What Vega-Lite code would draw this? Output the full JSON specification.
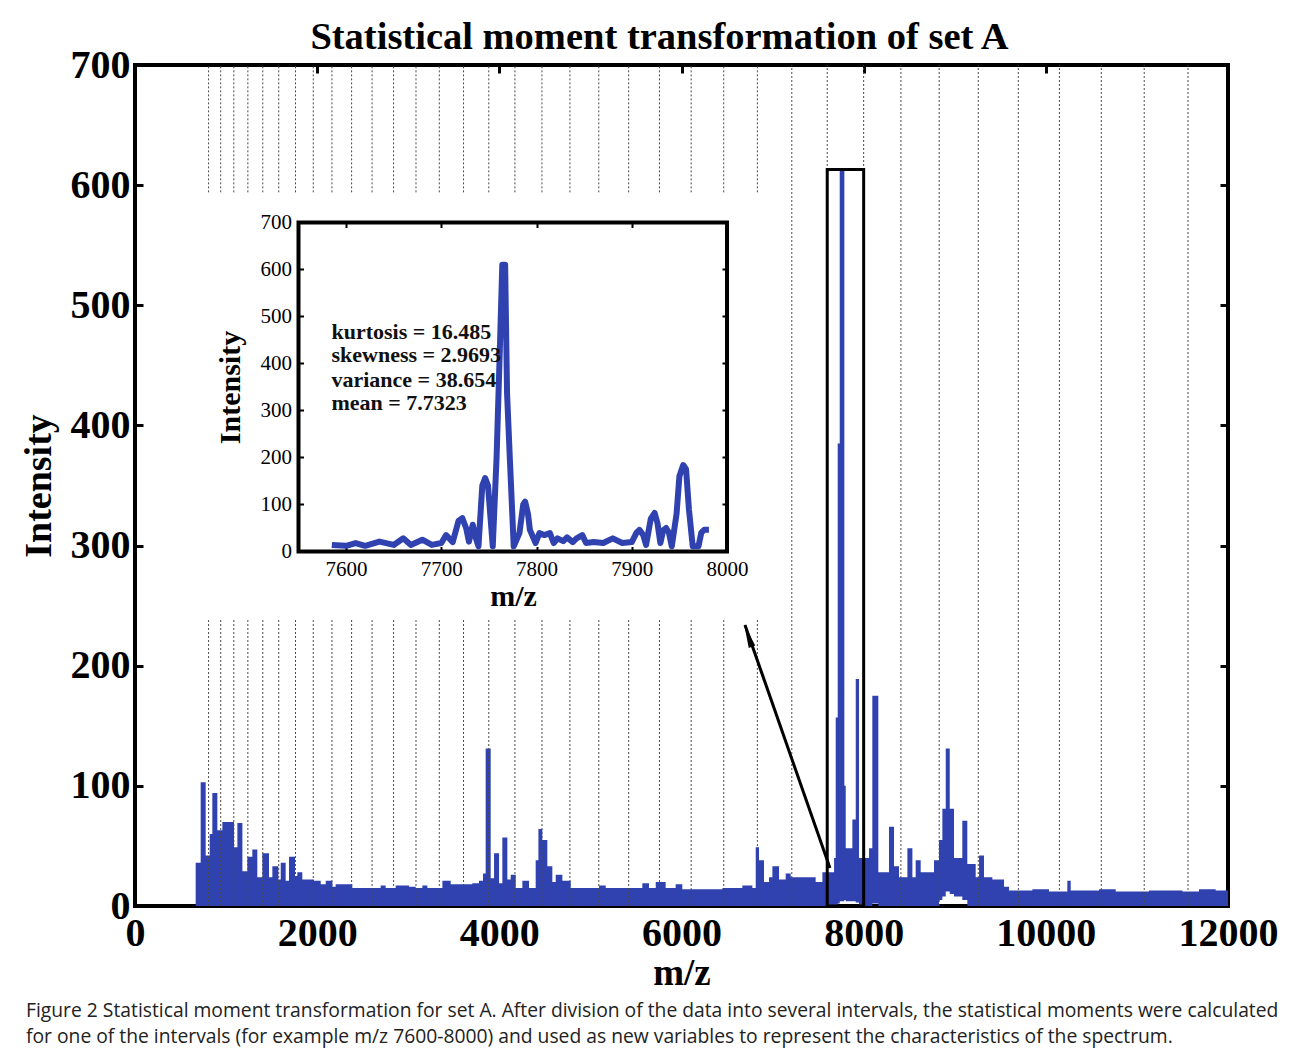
{
  "$schema": "https://vega.github.io/schema/vega-lite/v6.json",
  "background": "white",
  "padding": {"left": 18, "top": 15, "right": 0, "bottom": 0},
  "title": {
    "text": ["Figure 2 Statistical moment transformation for set A. After division of the data into several intervals, the statistical moments were calculated", "for one of the intervals (for example m/z 7600-8000) and used as new variables to represent the characteristics of the spectrum."],
    "orient": "bottom", "anchor": "start", "frame": "bounds",
    "font": "Open Sans", "fontSize": 19.3, "fontWeight": "normal", "color": "#222222",
    "lineHeight": 26, "offset": 9, "dx": 8
  },
  "datasets": {
    "spectrum": [
      {"mz": 666, "v": 36, "lo": 0}, {"mz": 721, "v": 103, "lo": 0}, {"mz": 776, "v": 42, "lo": 0}, {"mz": 820, "v": 60, "lo": 0},
      {"mz": 849, "v": 94, "lo": 0}, {"mz": 904, "v": 63, "lo": 0}, {"mz": 959, "v": 70, "lo": 0}, {"mz": 1087, "v": 49, "lo": 0},
      {"mz": 1124, "v": 69, "lo": 0}, {"mz": 1179, "v": 29, "lo": 0}, {"mz": 1233, "v": 41, "lo": 0}, {"mz": 1288, "v": 47, "lo": 0},
      {"mz": 1343, "v": 24, "lo": 0}, {"mz": 1398, "v": 44, "lo": 0}, {"mz": 1471, "v": 24, "lo": 0}, {"mz": 1508, "v": 33, "lo": 0},
      {"mz": 1574, "v": 22, "lo": 0}, {"mz": 1600, "v": 36, "lo": 0}, {"mz": 1654, "v": 21, "lo": 0}, {"mz": 1691, "v": 41, "lo": 0},
      {"mz": 1757, "v": 25, "lo": 0}, {"mz": 1782, "v": 28, "lo": 0}, {"mz": 1837, "v": 22, "lo": 0}, {"mz": 1965, "v": 21, "lo": 0},
      {"mz": 2039, "v": 18, "lo": 0}, {"mz": 2094, "v": 21, "lo": 0}, {"mz": 2167, "v": 16, "lo": 0}, {"mz": 2203, "v": 18, "lo": 0},
      {"mz": 2386, "v": 15, "lo": 0}, {"mz": 2606, "v": 15, "lo": 0}, {"mz": 2697, "v": 17, "lo": 0}, {"mz": 2752, "v": 15, "lo": 0},
      {"mz": 2862, "v": 17, "lo": 0}, {"mz": 3009, "v": 16, "lo": 0}, {"mz": 3082, "v": 15, "lo": 0}, {"mz": 3155, "v": 17, "lo": 0},
      {"mz": 3210, "v": 15, "lo": 0}, {"mz": 3375, "v": 21, "lo": 0}, {"mz": 3466, "v": 18, "lo": 0}, {"mz": 3704, "v": 19, "lo": 0},
      {"mz": 3777, "v": 21, "lo": 0}, {"mz": 3821, "v": 27, "lo": 0}, {"mz": 3850, "v": 131, "lo": 0}, {"mz": 3905, "v": 23, "lo": 0},
      {"mz": 3942, "v": 44, "lo": 0}, {"mz": 3997, "v": 19, "lo": 0}, {"mz": 4033, "v": 57, "lo": 0}, {"mz": 4088, "v": 22, "lo": 0},
      {"mz": 4125, "v": 26, "lo": 0}, {"mz": 4180, "v": 15, "lo": 0}, {"mz": 4253, "v": 21, "lo": 0}, {"mz": 4326, "v": 15, "lo": 0},
      {"mz": 4399, "v": 38, "lo": 0}, {"mz": 4429, "v": 64, "lo": 0}, {"mz": 4472, "v": 55, "lo": 0}, {"mz": 4527, "v": 33, "lo": 0},
      {"mz": 4582, "v": 20, "lo": 0}, {"mz": 4619, "v": 26, "lo": 0}, {"mz": 4692, "v": 21, "lo": 0}, {"mz": 4784, "v": 15, "lo": 0},
      {"mz": 5095, "v": 17, "lo": 0}, {"mz": 5168, "v": 15, "lo": 0}, {"mz": 5570, "v": 19, "lo": 0}, {"mz": 5643, "v": 15, "lo": 0},
      {"mz": 5717, "v": 20, "lo": 0}, {"mz": 5826, "v": 15, "lo": 0}, {"mz": 5936, "v": 18, "lo": 0}, {"mz": 6009, "v": 14, "lo": 0},
      {"mz": 6449, "v": 15, "lo": 0}, {"mz": 6668, "v": 17, "lo": 0}, {"mz": 6778, "v": 15, "lo": 0}, {"mz": 6815, "v": 49, "lo": 0},
      {"mz": 6851, "v": 38, "lo": 0}, {"mz": 6906, "v": 20, "lo": 0}, {"mz": 6961, "v": 24, "lo": 0}, {"mz": 6998, "v": 33, "lo": 0},
      {"mz": 7071, "v": 22, "lo": 0}, {"mz": 7144, "v": 27, "lo": 0}, {"mz": 7199, "v": 24, "lo": 0}, {"mz": 7473, "v": 20, "lo": 0},
      {"mz": 7547, "v": 28, "lo": 0}, {"mz": 7601, "v": 28, "lo": 0}, {"mz": 7675, "v": 40, "lo": 0}, {"mz": 7693, "v": 157, "lo": 0},
      {"mz": 7715, "v": 385, "lo": 2}, {"mz": 7737, "v": 612, "lo": 4}, {"mz": 7788, "v": 100, "lo": 5}, {"mz": 7803, "v": 48, "lo": 4},
      {"mz": 7876, "v": 72, "lo": 4}, {"mz": 7913, "v": 189, "lo": 3}, {"mz": 7949, "v": 40, "lo": 0}, {"mz": 8059, "v": 48, "lo": 0},
      {"mz": 8095, "v": 175, "lo": 2}, {"mz": 8161, "v": 28, "lo": 0}, {"mz": 8278, "v": 66, "lo": 0}, {"mz": 8333, "v": 33, "lo": 0},
      {"mz": 8388, "v": 24, "lo": 0}, {"mz": 8480, "v": 48, "lo": 0}, {"mz": 8535, "v": 24, "lo": 0}, {"mz": 8571, "v": 38, "lo": 0},
      {"mz": 8626, "v": 28, "lo": 0}, {"mz": 8772, "v": 38, "lo": 0}, {"mz": 8827, "v": 55, "lo": 5}, {"mz": 8864, "v": 81, "lo": 8},
      {"mz": 8901, "v": 131, "lo": 12}, {"mz": 8945, "v": 81, "lo": 10}, {"mz": 8992, "v": 40, "lo": 8}, {"mz": 9083, "v": 71, "lo": 5},
      {"mz": 9138, "v": 35, "lo": 0}, {"mz": 9230, "v": 24, "lo": 0}, {"mz": 9267, "v": 42, "lo": 0}, {"mz": 9321, "v": 24, "lo": 0},
      {"mz": 9413, "v": 22, "lo": 0}, {"mz": 9541, "v": 16, "lo": 0}, {"mz": 9596, "v": 13, "lo": 0}, {"mz": 9852, "v": 14, "lo": 0},
      {"mz": 10035, "v": 12, "lo": 0}, {"mz": 10236, "v": 21, "lo": 0}, {"mz": 10273, "v": 13, "lo": 0}, {"mz": 10584, "v": 14, "lo": 0},
      {"mz": 10767, "v": 12, "lo": 0}, {"mz": 11133, "v": 13, "lo": 0}, {"mz": 11499, "v": 12, "lo": 0}, {"mz": 11682, "v": 14, "lo": 0},
      {"mz": 11865, "v": 13, "lo": 0}, {"mz": 12000, "v": 13, "lo": 0}
    ],
    "bounds": [
      {"mz": 808, "lo": 0, "hi": 238}, {"mz": 808, "lo": 594, "hi": 700},
      {"mz": 941, "lo": 0, "hi": 238}, {"mz": 941, "lo": 594, "hi": 700},
      {"mz": 1085, "lo": 0, "hi": 238}, {"mz": 1085, "lo": 594, "hi": 700},
      {"mz": 1239, "lo": 0, "hi": 238}, {"mz": 1239, "lo": 594, "hi": 700},
      {"mz": 1403, "lo": 0, "hi": 238}, {"mz": 1403, "lo": 594, "hi": 700},
      {"mz": 1578, "lo": 0, "hi": 238}, {"mz": 1578, "lo": 594, "hi": 700},
      {"mz": 1762, "lo": 0, "hi": 238}, {"mz": 1762, "lo": 594, "hi": 700},
      {"mz": 1957, "lo": 0, "hi": 238}, {"mz": 1957, "lo": 594, "hi": 700},
      {"mz": 2162, "lo": 0, "hi": 238}, {"mz": 2162, "lo": 594, "hi": 700},
      {"mz": 2378, "lo": 0, "hi": 238}, {"mz": 2378, "lo": 594, "hi": 700},
      {"mz": 2603, "lo": 0, "hi": 238}, {"mz": 2603, "lo": 594, "hi": 700},
      {"mz": 2839, "lo": 0, "hi": 238}, {"mz": 2839, "lo": 594, "hi": 700},
      {"mz": 3085, "lo": 0, "hi": 238}, {"mz": 3085, "lo": 594, "hi": 700},
      {"mz": 3341, "lo": 0, "hi": 238}, {"mz": 3341, "lo": 594, "hi": 700},
      {"mz": 3607, "lo": 0, "hi": 238}, {"mz": 3607, "lo": 594, "hi": 700},
      {"mz": 3884, "lo": 0, "hi": 238}, {"mz": 3884, "lo": 594, "hi": 700},
      {"mz": 4171, "lo": 0, "hi": 238}, {"mz": 4171, "lo": 594, "hi": 700},
      {"mz": 4468, "lo": 0, "hi": 238}, {"mz": 4468, "lo": 594, "hi": 700},
      {"mz": 4775, "lo": 0, "hi": 238}, {"mz": 4775, "lo": 594, "hi": 700},
      {"mz": 5092, "lo": 0, "hi": 238}, {"mz": 5092, "lo": 594, "hi": 700},
      {"mz": 5420, "lo": 0, "hi": 238}, {"mz": 5420, "lo": 594, "hi": 700},
      {"mz": 5758, "lo": 0, "hi": 238}, {"mz": 5758, "lo": 594, "hi": 700},
      {"mz": 6106, "lo": 0, "hi": 238}, {"mz": 6106, "lo": 594, "hi": 700},
      {"mz": 6464, "lo": 0, "hi": 238}, {"mz": 6464, "lo": 594, "hi": 700},
      {"mz": 6833, "lo": 0, "hi": 238}, {"mz": 6833, "lo": 594, "hi": 700},
      {"mz": 7211, "lo": 0, "hi": 700}, {"mz": 7600, "lo": 0, "hi": 700},
      {"mz": 8000, "lo": 0, "hi": 700}, {"mz": 8409, "lo": 0, "hi": 700},
      {"mz": 8829, "lo": 0, "hi": 700}, {"mz": 9258, "lo": 0, "hi": 700},
      {"mz": 9698, "lo": 0, "hi": 700}, {"mz": 10149, "lo": 0, "hi": 700},
      {"mz": 10609, "lo": 0, "hi": 700}, {"mz": 11080, "lo": 0, "hi": 700},
      {"mz": 11561, "lo": 0, "hi": 700}
    ],
    "inset": [
      {"mz": 7585, "v": 14}, {"mz": 7600, "v": 12}, {"mz": 7610, "v": 18}, {"mz": 7620, "v": 12}, {"mz": 7635, "v": 21},
      {"mz": 7650, "v": 14}, {"mz": 7660, "v": 28}, {"mz": 7668, "v": 14}, {"mz": 7680, "v": 25}, {"mz": 7690, "v": 14},
      {"mz": 7700, "v": 18}, {"mz": 7705, "v": 35}, {"mz": 7712, "v": 20}, {"mz": 7718, "v": 65}, {"mz": 7722, "v": 71},
      {"mz": 7726, "v": 50}, {"mz": 7729, "v": 21}, {"mz": 7733, "v": 57}, {"mz": 7736, "v": 30}, {"mz": 7739, "v": 11},
      {"mz": 7743, "v": 140}, {"mz": 7746, "v": 156}, {"mz": 7749, "v": 140}, {"mz": 7754, "v": 11}, {"mz": 7758, "v": 200},
      {"mz": 7761, "v": 400}, {"mz": 7764, "v": 610}, {"mz": 7767, "v": 610}, {"mz": 7769, "v": 337}, {"mz": 7772, "v": 195},
      {"mz": 7776, "v": 11}, {"mz": 7782, "v": 39}, {"mz": 7786, "v": 100}, {"mz": 7788, "v": 106}, {"mz": 7791, "v": 80},
      {"mz": 7793, "v": 46}, {"mz": 7799, "v": 18}, {"mz": 7803, "v": 39}, {"mz": 7808, "v": 35}, {"mz": 7814, "v": 39},
      {"mz": 7818, "v": 18}, {"mz": 7822, "v": 28}, {"mz": 7828, "v": 22}, {"mz": 7832, "v": 30}, {"mz": 7838, "v": 20},
      {"mz": 7842, "v": 28}, {"mz": 7848, "v": 35}, {"mz": 7852, "v": 18}, {"mz": 7860, "v": 20}, {"mz": 7870, "v": 18},
      {"mz": 7880, "v": 28}, {"mz": 7890, "v": 18}, {"mz": 7900, "v": 20}, {"mz": 7905, "v": 40}, {"mz": 7908, "v": 46},
      {"mz": 7912, "v": 35}, {"mz": 7915, "v": 14}, {"mz": 7920, "v": 70}, {"mz": 7924, "v": 82}, {"mz": 7927, "v": 60},
      {"mz": 7930, "v": 18}, {"mz": 7933, "v": 45}, {"mz": 7936, "v": 50}, {"mz": 7939, "v": 40}, {"mz": 7942, "v": 11},
      {"mz": 7947, "v": 80}, {"mz": 7950, "v": 160}, {"mz": 7954, "v": 184}, {"mz": 7957, "v": 175}, {"mz": 7960, "v": 90},
      {"mz": 7964, "v": 11}, {"mz": 7970, "v": 11}, {"mz": 7973, "v": 40}, {"mz": 7976, "v": 46}, {"mz": 7981, "v": 46}
    ]
  },
  "vconcat": [
    {
      "width": 1093,
      "height": 841,
      "title": {
        "text": "Statistical moment transformation of set A",
        "font": "Liberation Serif", "fontSize": 38.5, "fontWeight": "bold", "color": "black",
        "anchor": "middle", "frame": "group", "offset": -12, "dx": -22
      },
      "resolve": {"scale": {"x": "independent", "y": "independent"}},
      "layer": [
        {
          "data": {"name": "spectrum"},
          "mark": {"type": "area", "interpolate": "step-after", "color": "#2f42b0", "line": false},
          "encoding": {
            "x": {"field": "mz", "type": "quantitative", "scale": {"domain": [0, 12000], "nice": false, "zero": false},
              "axis": {"orient": "bottom", "values": [0, 2000, 4000, 6000, 8000, 10000, 12000], "format": "d",
                "labelFontSize": 40, "labelFontWeight": "bold", "labelPadding": 15, "tickSize": -8, "tickWidth": 3,
                "labelFlush": false, "labelOverlap": false,
                "title": "m/z", "titleFontSize": 37, "titleFontWeight": "bold", "titlePadding": 2}},
            "y": {"field": "v", "type": "quantitative", "scale": {"domain": [0, 700], "nice": false, "zero": false},
              "axis": {"orient": "left", "values": [0, 100, 200, 300, 400, 500, 600, 700],
                "labelFontSize": 40, "labelFontWeight": "bold", "labelPadding": 13, "tickSize": -8, "tickWidth": 3,
                "labelFlush": false, "labelOverlap": false,
                "title": "Intensity", "titleFontSize": 38, "titleFontWeight": "bold", "titlePadding": 12}},
            "y2": {"field": "lo"}
          }
        },
        {
          "data": {"name": "bounds"},
          "mark": {"type": "rule", "color": "#4a4a4a", "strokeWidth": 1, "strokeDash": [2, 2]},
          "encoding": {
            "x": {"field": "mz", "type": "quantitative", "scale": {"domain": [0, 12000], "nice": false, "zero": false},
              "axis": {"orient": "top", "values": [2000, 4000, 6000, 8000, 10000], "labels": false, "tickSize": -8, "tickWidth": 3, "title": null, "minExtent": 0}},
            "y": {"field": "lo", "type": "quantitative", "scale": {"domain": [0, 700], "nice": false, "zero": false},
              "axis": {"orient": "right", "values": [100, 200, 300, 400, 500, 600], "labels": false, "tickSize": -8, "tickWidth": 3, "title": null, "minExtent": 0}},
            "y2": {"field": "hi"}
          }
        },
        {
          "data": {"values": [{"x1": 7600, "x2": 8000, "y1": 0, "y2": 613}]},
          "mark": {"type": "rect", "fillOpacity": 0, "stroke": "black", "strokeWidth": 3},
          "encoding": {
            "x": {"field": "x1", "type": "quantitative", "scale": {"domain": [0, 12000], "nice": false, "zero": false}, "axis": null},
            "x2": {"field": "x2"},
            "y": {"field": "y1", "type": "quantitative", "scale": {"domain": [0, 700], "nice": false, "zero": false}, "axis": null},
            "y2": {"field": "y2"}
          }
        },
        {
          "data": {"values": [{"mz": 7630, "v": 31.6}, {"mz": 6697, "v": 233.9}]},
          "mark": {"type": "line", "color": "black", "strokeWidth": 3},
          "encoding": {
            "x": {"field": "mz", "type": "quantitative", "scale": {"domain": [0, 12000], "nice": false, "zero": false}, "axis": null},
            "y": {"field": "v", "type": "quantitative", "scale": {"domain": [0, 700], "nice": false, "zero": false}, "axis": null}
          }
        },
        {
          "data": {"values": [{"mz": 6745, "v": 222}]},
          "mark": {"type": "point", "shape": "wedge", "filled": true, "color": "black", "opacity": 1, "size": 750, "angle": -19.3},
          "encoding": {
            "x": {"field": "mz", "type": "quantitative", "scale": {"domain": [0, 12000], "nice": false, "zero": false}, "axis": null},
            "y": {"field": "v", "type": "quantitative", "scale": {"domain": [0, 700], "nice": false, "zero": false}, "axis": null}
          }
        },
        {
          "data": {"values": [{"x1": 7550, "x2": 8000, "y1": 0, "y2": 700}]},
          "mark": {"type": "rect", "fillOpacity": 0, "stroke": "black", "strokeWidth": 4},
          "encoding": {
            "x": {"field": "x1", "type": "quantitative", "scale": {"domain": [7378.3, 8526.1], "nice": false, "zero": false},
              "axis": {"orient": "top", "offset": -157.5, "values": [7600, 7700, 7800, 7900], "labels": false, "tickSize": -5, "tickWidth": 2, "title": null, "minExtent": 0}},
            "x2": {"field": "x2"},
            "y": {"field": "y1", "type": "quantitative", "scale": {"domain": [-754.3, 1035.1], "nice": false, "zero": false},
              "axis": {"orient": "right", "offset": -501, "values": [100, 200, 300, 400, 500, 600], "labels": false, "tickSize": -5, "tickWidth": 2, "title": null, "minExtent": 0}},
            "y2": {"field": "y2"}
          }
        },
        {
          "data": {"name": "inset"},
          "mark": {"type": "line", "color": "#2f42b0", "strokeWidth": 6, "strokeJoin": "round"},
          "encoding": {
            "x": {"field": "mz", "type": "quantitative", "scale": {"domain": [7378.3, 8526.1], "nice": false, "zero": false},
              "axis": {"orient": "bottom", "offset": -354.5, "values": [7600, 7700, 7800, 7900, 8000], "format": "d",
                "labelFontSize": 21, "labelPadding": 12, "tickSize": -5, "tickWidth": 2, "labelFlush": false, "labelOverlap": false,
                "title": "m/z", "titleFontSize": 30, "titleFontWeight": "bold", "titleX": 378, "titlePadding": 2}},
            "y": {"field": "v", "type": "quantitative", "scale": {"domain": [-754.3, 1035.1], "nice": false, "zero": false},
              "axis": {"orient": "left", "offset": -163.5, "values": [0, 100, 200, 300, 400, 500, 600, 700], "format": "d",
                "labelFontSize": 21, "labelPadding": 12, "tickSize": -5, "tickWidth": 2, "labelFlush": false, "labelOverlap": false,
                "title": "Intensity", "titleFontSize": 30, "titleFontWeight": "bold", "titleY": 322, "titlePadding": 15}}
          }
        },
        {
          "data": {"values": [
            {"mz": 7584.6, "v": 467, "label": "kurtosis = 16.485"},
            {"mz": 7584.6, "v": 418, "label": "skewness = 2.9693"},
            {"mz": 7584.6, "v": 365, "label": "variance = 38.654"},
            {"mz": 7584.6, "v": 315, "label": "mean = 7.7323"}
          ]},
          "mark": {"type": "text", "align": "left", "baseline": "middle", "font": "Liberation Serif", "fontSize": 22, "fontWeight": "bold", "color": "#111111"},
          "encoding": {
            "x": {"field": "mz", "type": "quantitative", "scale": {"domain": [7378.3, 8526.1], "nice": false, "zero": false}, "axis": null},
            "y": {"field": "v", "type": "quantitative", "scale": {"domain": [-754.3, 1035.1], "nice": false, "zero": false}, "axis": null},
            "text": {"field": "label"}
          }
        }
      ]
    }
  ],
  "config": {
    "view": {"stroke": "black", "strokeWidth": 4},
    "concat": {"spacing": 0},
    "axis": {"labelFont": "Liberation Serif", "titleFont": "Liberation Serif", "labelColor": "black", "titleColor": "black",
      "tickColor": "black", "grid": false, "domain": false}
  }
}
